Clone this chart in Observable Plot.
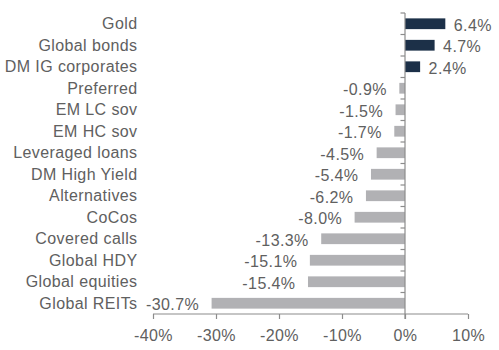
<!DOCTYPE html>
<html>
<head>
<meta charset="utf-8">
<script src="https://cdn.jsdelivr.net/npm/d3@7"></script>
<script src="https://cdn.jsdelivr.net/npm/@observablehq/plot@0.6"></script>
<style>
  html, body { margin: 0; padding: 0; background: #fff; }
  svg { display: block; }
  svg text { letter-spacing: 0.4px; }
</style>
</head>
<body>
<div id="chart"></div>
<script>
const categories = ["Gold", "Global bonds", "DM IG corporates", "Preferred", "EM LC sov", "EM HC sov",
  "Leveraged loans", "DM High Yield", "Alternatives", "CoCos", "Covered calls", "Global HDY",
  "Global equities", "Global REITs"];
const values = [6.4, 4.7, 2.4, -0.9, -1.5, -1.7, -4.5, -5.4, -6.2, -8.0, -13.3, -15.1, -15.4, -30.7];
const xTicks = [-40, -30, -20, -10, 0, 10];

const data = categories.map((c, i) => ({category: c, value: values[i]}));
const pos = data.filter(d => d.value >= 0);
const neg = data.filter(d => d.value < 0);
const fmt = v => v.toFixed(1) + "%";
const textColor = "#606060";
const axisColor = "#8c8c8c";

function axisLines(index, scales, values, dimensions) {
  const x = scales.x, y = scales.y;
  const dom = categories;
  const step = y(dom[1]) - y(dom[0]);
  const bw = y.bandwidth ? y.bandwidth() : step / 2;
  const top = y(dom[0]) - (step - bw) / 2;
  const bottom = top + step * dom.length;
  const g = d3.create("svg:g").attr("stroke", axisColor).attr("stroke-width", 1.2).attr("fill", "none");
  // baseline
  g.append("line").attr("x1", x(xTicks[0])).attr("x2", x(xTicks[xTicks.length - 1]))
    .attr("y1", bottom).attr("y2", bottom);
  // zero line
  g.append("line").attr("x1", x(0)).attr("x2", x(0)).attr("y1", top).attr("y2", bottom + 5);
  // category boundary ticks on zero line
  for (let i = 0; i < dom.length; i++) {
    const yy = top + step * i;
    g.append("line").attr("x1", x(0) - 4.5).attr("x2", x(0)).attr("y1", yy).attr("y2", yy);
  }
  return g.node();
}

const chart = Plot.plot({
  width: 499,
  height: 350,
  marginLeft: 153,
  marginRight: 31,
  marginTop: 13,
  marginBottom: 36,
  style: {fontFamily: "'Liberation Sans', Arial, sans-serif", fontSize: "16px", color: textColor, background: "#fff"},
  x: {domain: [-40, 10], axis: null, label: null},
  y: {domain: categories, paddingInner: 0.5, paddingOuter: 0.25, round: false, axis: null, label: null},
  marks: [
    Plot.barX(data, {y: "category", x1: 0, x2: "value", fill: d => d.value >= 0 ? "#1c3048" : "#b1b1b4"}),
    axisLines,
    Plot.axisX(xTicks, {tickSize: 5, tickPadding: 10, stroke: axisColor, strokeWidth: 1.2, fill: textColor,
      tickFormat: d => d + "%", fontSize: 16, label: null}),
    Plot.axisY({tickSize: 0, tickPadding: 16, fill: textColor, fontSize: 16, label: null}),
    Plot.text(pos, {y: "category", x: "value", text: d => fmt(d.value), textAnchor: "start", dx: 8, dy: 1.5, fill: textColor, fontSize: 16}),
    Plot.text(neg, {y: "category", x: "value", text: d => fmt(d.value), textAnchor: "end", dx: -13, dy: 1.5, fill: textColor, fontSize: 16})
  ]
});
document.getElementById("chart").appendChild(chart);
</script>
</body>
</html>
